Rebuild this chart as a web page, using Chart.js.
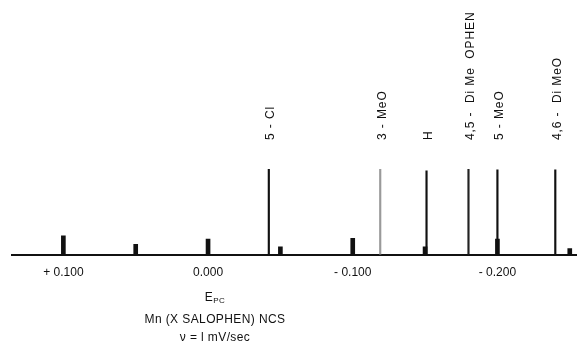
<!DOCTYPE html>
<html lang="en">
<head>
<meta charset="UTF-8"/>
<title>Mn (X SALOPHEN) NCS — Epc</title>
<script src="https://cdn.jsdelivr.net/npm/chart.js@4/dist/chart.umd.min.js"></script>
<style>
  *{box-sizing:border-box;margin:0;padding:0}
  body{background:#fff;width:577px;height:348px;overflow:hidden;font-family:"Liberation Sans",Arial,sans-serif;color:#111}
  .wrap{position:relative;width:577px;height:348px}
  .caption{position:absolute;left:115px;width:200px;text-align:center;font-size:12px;letter-spacing:.4px;line-height:18px}
  .caption sub{font-size:8px;vertical-align:-2px}
</style>
</head>
<body>
<div class="wrap">
  <canvas id="chart" width="577" height="348"></canvas>
  <div class="caption" style="top:288px">E<sub>PC</sub><br>Mn (X SALOPHEN) NCS<br>ν = l mV/sec</div>
</div>

<script>
// ── Data (potentials in V, heights in relative units) ───────────────────────
const markE       = [0.1, 0.05, 0, -0.05, -0.1, -0.15, -0.2, -0.25];
const markHeights = [22, 12, 18, 9, 19, 9, 18, 7];

const substituents = ["5 - Cl", "3 - MeO", "H", "4,5 -  Di Me  OPHEN", "5 - MeO", "4,6 -  Di MeO"];
const peakE        = [-0.042, -0.119, -0.151, -0.180, -0.200, -0.240];
const peakHeights  = [100, 100, 98, 100, 99, 99];
const peakColors   = ["#111", "#9a9a9a", "#111", "#222", "#111", "#111"];

const tickValues = [0.1, 0, -0.1, -0.2];
const tickLabels = ["+ 0.100", "0.000", "- 0.100", "- 0.200"];

// rotated substituent labels above each line
const peakLabels = {
  id: 'peakLabels',
  afterDatasetsDraw(chart) {
    const { ctx, scales: { x } } = chart;
    ctx.save();
    ctx.fillStyle = '#111';
    ctx.font = '12px "Liberation Sans", Arial, sans-serif';
    ctx.letterSpacing = '0.9px';
    ctx.textAlign = 'left';
    ctx.textBaseline = 'middle';
    substituents.forEach((s, i) => {
      ctx.save();
      ctx.translate(x.getPixelForValue(peakE[i]) + 2, 140);
      ctx.rotate(-Math.PI / 2);
      ctx.fillText(s, 0, 0);
      ctx.restore();
    });
    ctx.restore();
  }
};

new Chart(document.getElementById('chart'), {
  type: 'bar',
  data: {
    datasets: [
      {
        label: 'reference marks',
        data: markE.map((e, i) => ({ x: e, y: markHeights[i] })),
        backgroundColor: '#111',
        barThickness: 4,
      },
      {
        label: 'Epc',
        data: peakE.map((e, i) => ({ x: e, y: peakHeights[i] })),
        backgroundColor: peakColors,
        barThickness: 1.5,
      },
    ]
  },
  options: {
    responsive: false,
    animation: false,
    grouped: false,
    layout: { padding: { top: 169, left: 12, right: 0, bottom: 57 } },
    plugins: { legend: { display: false }, tooltip: { enabled: false } },
    scales: {
      x: {
        type: 'linear',
        reverse: true,
        min: -0.255,
        max: 0.1355,
        offset: false,
        grid: { display: false, drawTicks: false },
        border: { display: true, color: '#111', width: 2 },
        afterBuildTicks: s => { s.ticks = tickValues.map(v => ({ value: v })); },
        ticks: {
          padding: 11,
          color: '#111',
          font: { family: '"Liberation Sans", Arial, sans-serif', size: 12 },
          maxRotation: 0,
          callback: v => tickLabels[tickValues.indexOf(v)] ?? ''
        }
      },
      y: { display: false, min: 0, max: 100 }
    }
  },
  plugins: [peakLabels]
});
</script>
</body>
</html>
